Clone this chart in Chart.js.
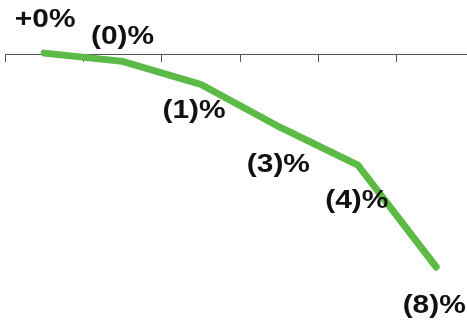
<!DOCTYPE html>
<html>
<head>
<meta charset="utf-8">
<script src="https://cdn.jsdelivr.net/npm/chart.js@4/dist/chart.umd.min.js"></script>
<style>
  html, body { margin: 0; padding: 0; background: #ffffff; overflow: hidden; }
  #chart { display: block; }
</style>
</head>
<body>
<canvas id="chart" width="467" height="322"></canvas>
<script>
// Period index of each step along the curve
const periods = [0, 1, 2, 3, 4, 5];
// Percentage change at each step
const changes = [0.05, -0.26, -1.13, -2.73, -4.16, -8.0];
// Category boundaries where the axis tick marks sit
const boundaryTicks = [-0.5, 0.5, 1.5, 2.5, 3.5, 4.5];

// Where each value label sits relative to its point (px)
const labelOffsets = [
  [1, -33], [0, -25], [-7, 26], [-1, 38], [-1, 36], [-2, 39]
];

function formatChange(v) {
  const r = Math.round(Math.abs(v));
  return v >= 0 ? '+' + r + '%' : '(' + r + ')%';
}

const valueLabels = {
  id: 'valueLabels',
  afterDatasetsDraw(chart) {
    const ctx = chart.ctx;
    const meta = chart.getDatasetMeta(0);
    ctx.save();
    ctx.font = 'bold 26px "Liberation Sans", Arial, sans-serif';
    ctx.fillStyle = '#111111';
    ctx.textAlign = 'center';
    ctx.textBaseline = 'middle';
    meta.data.forEach((pt, i) => {
      const [dx, dy] = labelOffsets[i];
      ctx.save();
      ctx.translate(pt.x + dx, pt.y + dy);
      ctx.scale(1.15, 1);
      ctx.fillText(formatChange(changes[i]), 0, 0);
      ctx.restore();
    });
    ctx.restore();
  }
};

new Chart(document.getElementById('chart'), {
  type: 'line',
  data: {
    datasets: [{
      data: periods.map((p, i) => ({ x: p, y: changes[i] })),
      borderColor: '#5cba47',
      borderWidth: 7,
      borderCapStyle: 'round',
      borderJoinStyle: 'miter',
      pointRadius: 0,
      pointHoverRadius: 0,
      tension: 0,
      fill: false
    }]
  },
  options: {
    responsive: false,
    animation: false,
    events: [],
    layout: { padding: { left: 5, right: 0, top: 0, bottom: 0 } },
    plugins: {
      legend: { display: false },
      tooltip: { enabled: false }
    },
    scales: {
      x: {
        type: 'linear',
        position: { y: 0 },
        min: -0.5,
        max: 5.393,
        afterBuildTicks(scale) {
          scale.ticks = boundaryTicks.map(v => ({ value: v }));
        },
        ticks: { display: false },
        grid: {
          drawOnChartArea: false,
          drawTicks: true,
          tickLength: 7,
          tickWidth: 1,
          color: '#555555'
        },
        border: { display: true, color: '#555555', width: 1 }
      },
      y: {
        display: false,
        min: -10.07,
        max: 2.05
      }
    }
  },
  plugins: [valueLabels]
});
</script>
</body>
</html>
